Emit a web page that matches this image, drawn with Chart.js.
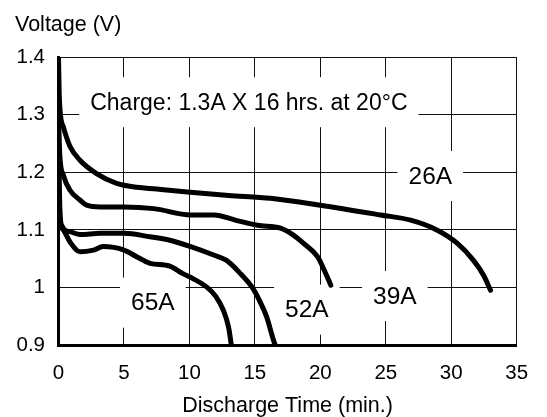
<!DOCTYPE html>
<html>
<head>
<meta charset="utf-8">
<script src="https://cdn.jsdelivr.net/npm/chart.js@4"></script>
<style>
  html, body { margin: 0; padding: 0; background: #fff; }
  canvas { display: block; }
</style>
</head>
<body>
<canvas id="c" width="547" height="417"></canvas>
<script>
// discharge curves: time in minutes, voltage in V
const t26 = [0, 0.05, 0.15, 0.37, 0.88, 1.64, 2.9, 4.44, 5.7, 7.5, 9.84, 13, 16.2, 20, 24.6, 26.9, 28.9, 30.45, 31.7, 32.5, 33.0];
const v26 = [1.4, 1.34, 1.3, 1.279, 1.245, 1.221, 1.198, 1.181, 1.175, 1.171, 1.166, 1.16, 1.155, 1.143, 1.126, 1.117, 1.1, 1.077, 1.047, 1.02, 0.995];

const t39 = [0, 0.1, 0.37, 0.88, 1.64, 2.15, 3.2, 5, 7.3, 10.1, 11.9, 13.5, 15.2, 16.96, 17.8, 18.7, 19.8, 20.3, 20.8];
const v39 = [1.3, 1.23, 1.195, 1.169, 1.152, 1.143, 1.14, 1.14, 1.137, 1.126, 1.126, 1.117, 1.108, 1.103, 1.093, 1.077, 1.053, 1.03, 1.004];

const t52 = [0, 0.1, 0.24, 0.88, 1.65, 3.2, 5, 7.0, 8.5, 10.1, 11.9, 12.84, 13.9, 14.8, 15.4, 15.9, 16.4, 16.55];
const v52 = [1.25, 1.14, 1.108, 1.097, 1.092, 1.094, 1.094, 1.088, 1.082, 1.071, 1.056, 1.047, 1.024, 1.0, 0.975, 0.949, 0.91, 0.9];

const t65 = [0, 0.1, 0.37, 0.88, 1.65, 2.67, 3.4, 5, 6.0, 7.0, 8.5, 9.5, 10.3, 11.3, 12.0, 12.6, 13.0, 13.2];
const v65 = [1.2, 1.12, 1.1, 1.079, 1.062, 1.065, 1.071, 1.065, 1.053, 1.042, 1.037, 1.024, 1.015, 1.001, 0.985, 0.96, 0.93, 0.9];

// text labels inside the plot (anchored in data units)
const noteText = ['Charge: 1.3A X 16 hrs. at 20°C', '26A', '39A', '52A', '65A'];
const noteX = [14.54, 28.4, 25.69, 18.97, 7.21];
const noteY = [1.322, 1.1936, 0.985, 0.9614, 0.9736];

const xTitle = 'Discharge Time (min.)';
const yTitle = 'Voltage (V)';

const pts = (t, v) => t.map((x, i) => ({x: x, y: v[i]}));

const curve = (label, t, v) => ({
  label: label,
  data: pts(t, v),
  borderColor: '#000',
  borderWidth: 5,
  pointRadius: 0,
  fill: false,
  cubicInterpolationMode: 'monotone',
  borderCapStyle: 'round',
  borderJoinStyle: 'round'
});

// white boxed notes under the curves, plus the voltage caption
const notes = {
  id: 'notes',
  beforeDatasetsDraw(chart) {
    const {ctx, scales: {x, y}} = chart;
    ctx.save();
    noteText.forEach((txt, i) => {
      ctx.font = (i === 0 ? '23px' : '24.5px') + ' "Liberation Sans", Arial, sans-serif';
      const w = ctx.measureText(txt).width;
      const cx = x.getPixelForValue(noteX[i]);
      const cy = y.getPixelForValue(noteY[i]);
      ctx.fillStyle = '#fff';
      ctx.fillRect(cx - w / 2 - 11, cy - 25, w + 22, 50);
      ctx.fillStyle = '#000';
      ctx.textAlign = 'center';
      ctx.textBaseline = 'middle';
      ctx.fillText(txt, cx, cy + 1);
    });
    ctx.restore();
  },
  afterDraw(chart) {
    const ctx = chart.ctx;
    ctx.save();
    ctx.font = '21.5px "Liberation Sans", Arial, sans-serif';
    ctx.fillStyle = '#000';
    ctx.textAlign = 'left';
    ctx.textBaseline = 'middle';
    ctx.fillText(yTitle, 15, 25);
    ctx.restore();
  }
};

new Chart(document.getElementById('c'), {
  type: 'line',
  data: {
    datasets: [
      curve('26A', t26, v26),
      curve('39A', t39, v39),
      curve('52A', t52, v52),
      curve('65A', t65, v65)
    ]
  },
  options: {
    responsive: false,
    animation: false,
    devicePixelRatio: 1,
    layout: {padding: {top: 57.3, left: 13, right: 30.3, bottom: 0}},
    plugins: {legend: {display: false}, tooltip: {enabled: false}},
    scales: {
      x: {
        type: 'linear',
        min: 0, max: 35,
        ticks: {stepSize: 5, color: '#000', padding: 16.3, maxRotation: 0,
                font: {family: '"Liberation Sans", Arial, sans-serif', size: 20.5}},
        grid: {color: '#111', lineWidth: 1, drawTicks: false},
        border: {color: '#000', width: 3},
        title: {display: true, text: xTitle, color: '#000', padding: {top: 0, bottom: 0},
                font: {family: '"Liberation Sans", Arial, sans-serif', size: 21.5, lineHeight: 1}},
        afterFit: s => { s.height = 72; }
      },
      y: {
        min: 0.9, max: 1.4,
        ticks: {stepSize: 0.1, color: '#000', padding: 13.5,
                callback: v => String(Number(v.toFixed(1))),
                font: {family: '"Liberation Sans", Arial, sans-serif', size: 20.5}},
        grid: {color: '#111', lineWidth: 1, drawTicks: false},
        border: {color: '#000', width: 3},
        afterFit: s => { s.width = 45.5; }
      }
    }
  },
  plugins: [notes]
});
</script>
</body>
</html>
